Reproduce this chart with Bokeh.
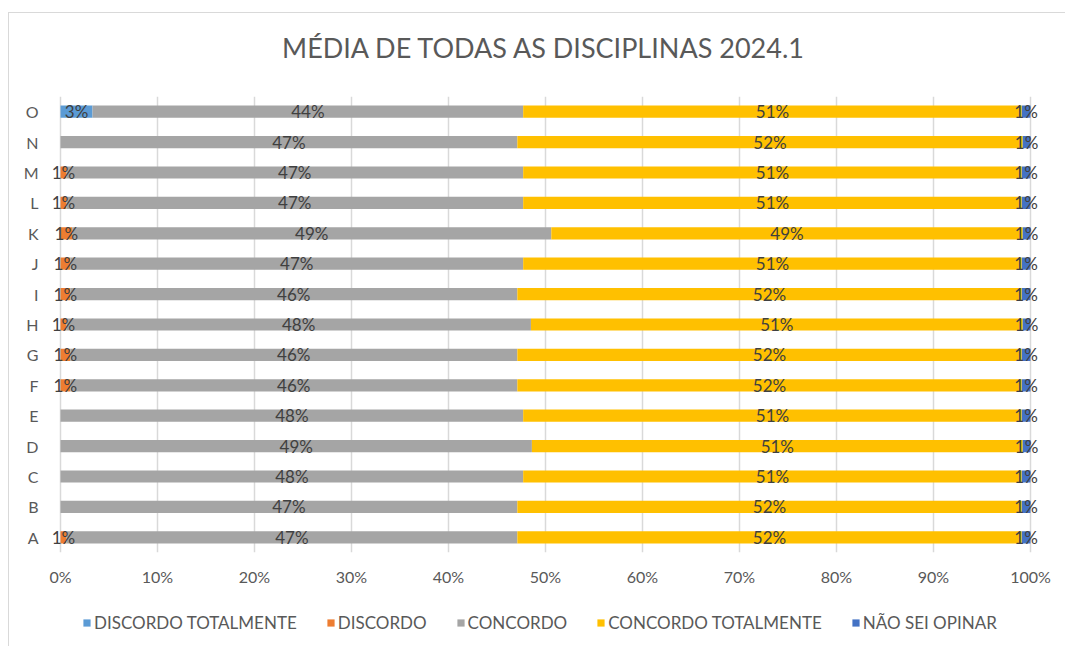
from bokeh.plotting import figure
from bokeh.layouts import column
from bokeh.models import (ColumnDataSource, FactorRange, Range1d, Legend, LegendItem,
                          PrintfTickFormatter, FixedTicker, Div)
from bokeh.core.properties import value
from bokeh.embed import file_html
from bokeh.resources import INLINE

# ---------------- data (percent) ----------------
categories = ["A", "B", "C", "D", "E", "F", "G", "H", "I", "J", "K", "L", "M", "N", "O"]
discordo_totalmente = [0, 0, 0, 0, 0, 0, 0, 0, 0, 0, 0, 0, 0, 0, 3.3]
discordo = [0.6, 0, 0, 0, 0, 1.0, 1.0, 0.6, 1.0, 1.0, 1.2, 0.6, 0.6, 0, 0]
concordo = [46.5, 47.1, 47.7, 48.6, 47.7, 46.1, 46.1, 47.9, 46.1, 46.7, 49.4, 47.1, 47.1, 47.1, 44.4]
concordo_totalmente = [52.0, 52.0, 51.4, 50.6, 51.4, 52.0, 52.0, 50.7, 52.0, 51.4, 48.6, 51.4, 51.4, 52.1, 51.4]
nao_sei_opinar = [0.9, 0.9, 0.9, 0.8, 0.9, 0.9, 0.9, 0.8, 0.9, 0.9, 0.8, 0.9, 0.9, 0.8, 0.9]

series_names = ["DISCORDO TOTALMENTE", "DISCORDO", "CONCORDO", "CONCORDO TOTALMENTE", "NÃO SEI OPINAR"]
series_keys = ["dt", "d", "c", "ct", "ns"]
series_vals = [discordo_totalmente, discordo, concordo, concordo_totalmente, nao_sei_opinar]
colors = ["#5B9BD5", "#ED7D31", "#A5A5A5", "#FFC000", "#4472C4"]
title_text = "MÉDIA DE TODAS AS DISCIPLINAS 2024.1"
x_ticks = list(range(0, 101, 10))

FONT = "Lato"

data = {"cat": categories}
for k, v in zip(series_keys, series_vals):
    data[k] = v
source = ColumnDataSource(data)

# title as its own strip
title_div = Div(text=title_text, width=1056, height=60, margin=(0, 0, 0, 0),
                styles={"font-family": "Lato", "font-size": "27px", "color": "#595959",
                        "text-align": "center", "padding-top": "19px", "padding-left": "12px",
                        "box-sizing": "border-box", "line-height": "32px"})

p = figure(width=1056, height=527, y_range=FactorRange(factors=categories, range_padding=0),
           x_range=Range1d(-1.65, 101.55), output_backend="svg", toolbar_location=None,
           min_border_left=35, min_border_right=20, min_border_top=23, min_border_bottom=48)

renderers = p.hbar_stack(series_keys, y="cat", height=0.4, color=colors, source=source, line_width=0)

# data labels
lx, ly, lt = [], [], []
for i, cat in enumerate(categories):
    start = 0.0
    for vals in series_vals:
        v = vals[i]
        if v > 0:
            lx.append(start + v / 2.0)
            ly.append(cat)
            lt.append("%d%%" % int(v + 0.5))
        start += v
lsrc = ColumnDataSource(dict(x=lx, y=ly, t=lt))
p.text(x="x", y="y", text="t", source=lsrc, text_align="center", text_baseline="middle",
       text_font=value(FONT), text_font_size="17px", text_color="#404040")

# axes
p.xaxis.ticker = FixedTicker(ticks=x_ticks)
p.xaxis.formatter = PrintfTickFormatter(format="%d%%")
for ax in (p.xaxis[0], p.yaxis[0]):
    ax.axis_line_color = None
    ax.major_tick_line_color = None
    ax.minor_tick_line_color = None
    ax.major_label_text_font = FONT
    ax.major_label_text_font_size = "16px"
    ax.major_label_text_color = "#595959"
p.xaxis.major_label_standoff = 8
p.yaxis.major_label_standoff = 0

p.xgrid.ticker = FixedTicker(ticks=x_ticks)
p.xgrid.grid_line_color = "#d9d9d9"
p.xgrid.grid_line_width = 1.5
p.ygrid.visible = False
p.outline_line_color = None

# legend strip below the chart
p2 = figure(width=1056, height=46, x_range=Range1d(0, 1), y_range=Range1d(0, 1),
            output_backend="svg", toolbar_location=None, min_border=0,
            x_axis_location=None, y_axis_location=None)
p2.grid.visible = False
p2.outline_line_color = None
nan = float("nan")
# legend-only renderers (no drawable data)
dummies = [p2.hbar(y=[nan], right=[nan], height=0.4, color=c, line_width=0) for c in colors]
legend = Legend(items=[LegendItem(label=n, renderers=[r]) for n, r in zip(series_names, dummies)],
                orientation="horizontal", location=(38, 13),
                glyph_width=9, glyph_height=9, label_standoff=3, spacing=29,
                label_text_font=FONT, label_text_font_size="17px", label_text_color="#595959",
                border_line_color=None, background_fill_alpha=0, padding=4, margin=0)
p2.add_layout(legend, "center")

layout = column(title_div, p, p2, spacing=0)
layout.styles = {"margin-left": "8px", "margin-top": "12px",
                 "border-left": "1px solid #d9d9d9", "border-top": "1px solid #d9d9d9"}

open("out.html", "w").write(file_html(layout, INLINE))
